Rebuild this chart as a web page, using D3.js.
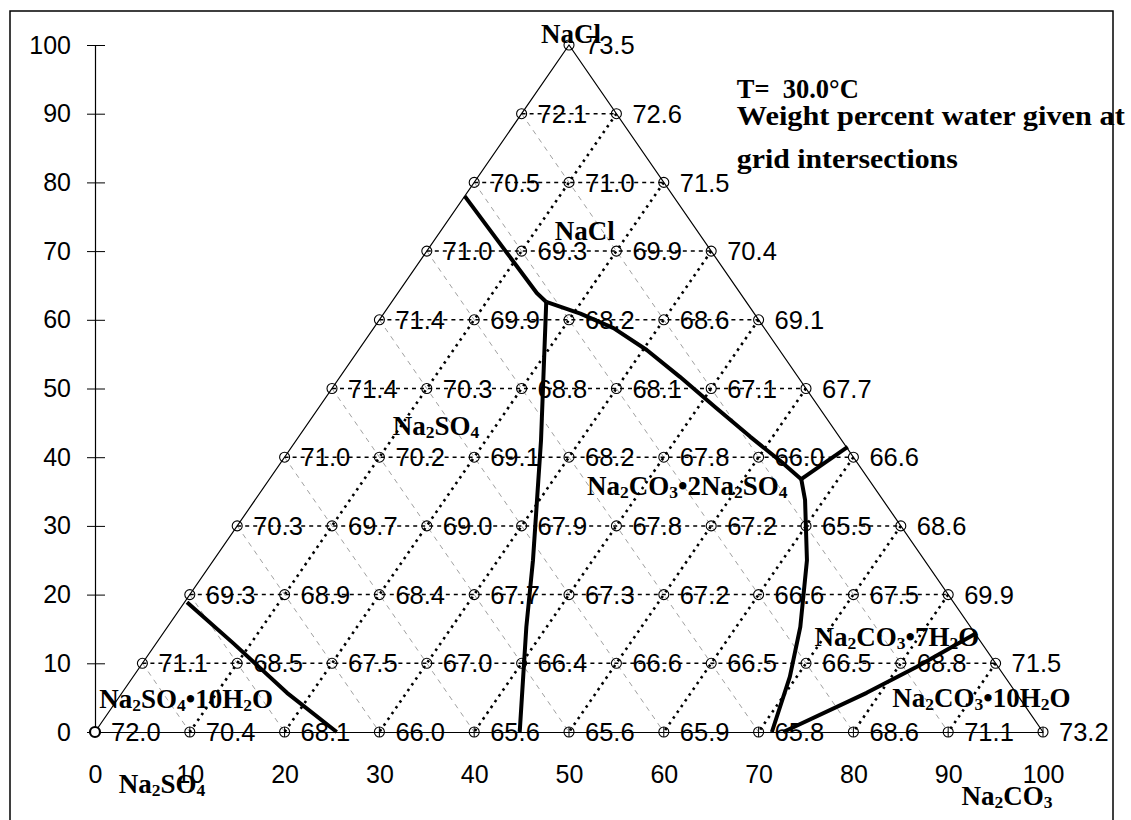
<!DOCTYPE html>
<html>
<head>
<meta charset="utf-8">
<script src="https://cdn.jsdelivr.net/npm/d3@7"></script>
<style>
  body { margin: 0; background: white; }
</style>
</head>
<body>
<div id="chart"></div>
<script>

const width = 1131
const height = 820

// grid levels of the ternary plot (y value of each row)
const levels = [0, 10, 20, 30, 40, 50, 60, 70, 80, 90, 100];
const xTicks = [0, 10, 20, 30, 40, 50, 60, 70, 80, 90, 100];
const yTicks = [0, 10, 20, 30, 40, 50, 60, 70, 80, 90, 100];

// weight percent water at each grid intersection, row by row, left to right
const water0 = [72.0, 70.4, 68.1, 66.0, 65.6, 65.6, 65.9, 65.8, 68.6, 71.1, 73.2];
const water10 = [71.1, 68.5, 67.5, 67.0, 66.4, 66.6, 66.5, 66.5, 68.8, 71.5];
const water20 = [69.3, 68.9, 68.4, 67.7, 67.3, 67.2, 66.6, 67.5, 69.9];
const water30 = [70.3, 69.7, 69.0, 67.9, 67.8, 67.2, 65.5, 68.6];
const water40 = [71.0, 70.2, 69.1, 68.2, 67.8, 66.0, 66.6];
const water50 = [71.4, 70.3, 68.8, 68.1, 67.1, 67.7];
const water60 = [71.4, 69.9, 68.2, 68.6, 69.1];
const water70 = [71.0, 69.3, 69.9, 70.4];
const water80 = [70.5, 71.0, 71.5];
const water90 = [72.1, 72.6];
const water100 = [73.5];

// phase boundaries
const bNaClNa2SO4 = [[39.0, 78.0], [46.6, 63.9], [47.6, 62.6]];
const bNa2SO4Double = [[47.6, 62.6], [47.05, 42.5], [46.2, 25.0], [45.5, 15.3], [44.8, 0]];
const bNaClDouble = [[47.6, 62.6], [51.2, 60.9], [54.7, 58.8], [58.2, 55.6], [61.7, 51.7], [65.5, 47.2], [69.1, 43.0], [72.6, 39.1], [74.5, 36.8]];
const bNaClCarb = [[74.5, 36.8], [79.4, 41.5]];
const bDoubleCarb = [[74.5, 36.8], [74.9, 33.8], [75.1, 25.0], [74.4, 15.3], [73.3, 8.05], [71.4, 0]];
const b7H2O10H2O = [[72.6, 0], [81.4, 5.7], [86.7, 9.5], [93.0, 14.4]];
const bNa2SO410H2O = [[9.7, 18.9], [14.6, 12.9], [20.25, 5.7], [25.5, 0]];

const boundaries = [bNaClNa2SO4, bNa2SO4Double, bNaClDouble, bNaClCarb, bDoubleCarb, b7H2O10H2O, bNa2SO410H2O];

// text labels: [text, x, y] in chart units (start of text, baseline)
const phaseLabels = [
  ["NaCl", 47.05, 100.3],
  ["NaCl", 48.5, 71.6],
  ["Na2SO4", 31.4, 43.2],
  ["Na2CO3•2Na2SO4", 51.9, 34.5],
  ["Na2CO3•7H2O", 75.9, 12.5],
  ["Na2CO3•10H2O", 84.1, 3.7],
  ["Na2SO4•10H2O", 0.45, 3.5],
  ["Na2SO4", 2.5, -8.9],
  ["Na2CO3", 91.4, -10.6]
];
const infoLabels = [
  ["T=  30.0°C", 67.7, 92.3, 122],
  ["Weight percent water given at", 67.7, 88.35, 388],
  ["grid intersections", 67.7, 82.05, 221]
];

const waterRows = [water0, water10, water20, water30, water40, water50, water60, water70, water80, water90, water100];
const gridPoints = [];
levels.forEach((lv, r) => {
  waterRows[r].forEach((w, i) => {
    gridPoints.push({ x: lv / 2 + 10 * i, y: lv, w: w, row: r, i: i });
  });
});

const sans = "'Liberation Sans', Arial, sans-serif";
const serif = "'Liberation Serif', 'Times New Roman', serif";

const svg = d3.select("#chart")
  .append("svg")
  .attr("width", width)
  .attr("height", height)

const x = d3.scaleLinear().domain([0, 100]).range([95, 1043]);
const y = d3.scaleLinear().domain([0, 100]).range([732, 45]);

svg.append("rect")
  .attr("x", 10)
  .attr("y", 11)
  .attr("width", 1103)
  .attr("height", 830)
  .attr("fill", "white")
  .attr("stroke", "black")
  .attr("stroke-width", 1.5);

const grid = svg.append("g").attr("class", "grid");
const steps = d3.range(1, 10);

// thin dashed lines parallel to the right side
grid.selectAll("line.thin")
  .data(steps)
  .join("line")
  .attr("class", "thin")
  .attr("x1", k => x(5 * k))
  .attr("y1", k => y(10 * k))
  .attr("x2", k => x(10 * k))
  .attr("y2", y(0))
  .attr("stroke", "#777")
  .attr("stroke-width", 0.7)
  .attr("stroke-dasharray", "5,5");

// dotted lines parallel to the left side
grid.selectAll("line.dot")
  .data(steps)
  .join("line")
  .attr("class", "dot")
  .attr("x1", k => x(100 - 5 * k))
  .attr("y1", k => y(10 * k))
  .attr("x2", k => x(100 - 10 * k))
  .attr("y2", y(0))
  .attr("stroke", "black")
  .attr("stroke-width", 2.6)
  .attr("stroke-dasharray", "2.5,4.5");

// dashed horizontal rows
grid.selectAll("line.row")
  .data(steps)
  .join("line")
  .attr("class", "row")
  .attr("x1", k => x(5 * k))
  .attr("y1", k => y(10 * k))
  .attr("x2", k => x(100 - 5 * k))
  .attr("y2", k => y(10 * k))
  .attr("stroke", "black")
  .attr("stroke-width", 1.5)
  .attr("stroke-dasharray", "4,4");

// triangle sides
svg.append("path")
  .attr("d", d3.line()([[x(0), y(0)], [x(50), y(100)], [x(100), y(0)]]))
  .attr("fill", "none")
  .attr("stroke", "black")
  .attr("stroke-width", 1.2);

// axes
const yAxis = svg.append("g")
  .attr("transform", `translate(${x(0)},0)`)
  .call(d3.axisLeft(y).tickValues(yTicks).tickSize(8).tickSizeOuter(0).tickPadding(16));
yAxis.selectAll(".tick").append("line")
  .attr("x2", 10)
  .attr("stroke", "black");

const xAxis = svg.append("g")
  .attr("transform", `translate(0,${y(0)})`)
  .call(d3.axisBottom(x).tickValues(xTicks).tickSize(0).tickSizeOuter(0).tickPadding(33));

[yAxis, xAxis].forEach(a => {
  a.select(".domain").attr("stroke", "black").attr("stroke-width", 1.2);
  a.selectAll("text")
    .attr("font-family", sans)
    .attr("font-size", 25)
    .attr("fill", "black");
});

// grid markers
svg.selectAll("circle.pt")
  .data(gridPoints)
  .join("circle")
  .attr("class", "pt")
  .attr("cx", d => x(d.x))
  .attr("cy", d => y(d.y))
  .attr("r", 5)
  .attr("fill", d => d.row === 0 && d.i === 0 ? "white" : "none")
  .attr("stroke", "black")
  .attr("stroke-width", d => d.row === 0 && d.i === 0 ? 2.2 : 1.1);

svg.selectAll("line.ptmark")
  .data(gridPoints.filter(d => d.row === 0 && d.i > 0))
  .join("line")
  .attr("class", "ptmark")
  .attr("x1", d => x(d.x))
  .attr("x2", d => x(d.x))
  .attr("y1", d => y(d.y) - 5)
  .attr("y2", d => y(d.y) + 5)
  .attr("stroke", "black")
  .attr("stroke-width", 1);

// water values
svg.selectAll("text.val")
  .data(gridPoints)
  .join("text")
  .attr("class", "val")
  .attr("x", d => x(d.x) + 16)
  .attr("y", d => y(d.y))
  .attr("dy", "0.36em")
  .attr("font-family", sans)
  .attr("font-size", 25.5)
  .attr("fill", "black")
  .text(d => d3.format(".1f")(d.w));

// phase boundaries
const lineGen = d3.line().x(d => x(d[0])).y(d => y(d[1]));
svg.selectAll("path.boundary")
  .data(boundaries)
  .join("path")
  .attr("class", "boundary")
  .attr("d", lineGen)
  .attr("fill", "none")
  .attr("stroke", "black")
  .attr("stroke-width", 4)
  .attr("stroke-linejoin", "round");

// chemical formula with subscripts
function addFormula(sel, str) {
  let sub = false;
  let prev = "";
  for (const ch of str) {
    const isDigit = /[0-9]/.test(ch);
    let nowSub = false;
    if (isDigit) {
      nowSub = /[A-Za-z]/.test(prev) || (/[0-9]/.test(prev) && sub);
    }
    const t = sel.append("tspan").text(ch);
    if (nowSub && !sub) t.attr("dy", 3).attr("font-size", "0.65em");
    else if (nowSub) t.attr("font-size", "0.65em");
    else if (!nowSub && sub) t.attr("dy", -3);
    sub = nowSub;
    prev = ch;
  }
}

svg.selectAll("text.phase")
  .data(phaseLabels)
  .join("text")
  .attr("class", "phase")
  .attr("x", d => x(d[1]))
  .attr("y", d => y(d[2]))
  .attr("font-family", serif)
  .attr("font-weight", "bold")
  .attr("font-size", 27)
  .attr("fill", "black")
  .each(function (d) { addFormula(d3.select(this), d[0]); });

svg.selectAll("text.info")
  .data(infoLabels)
  .join("text")
  .attr("class", "info")
  .attr("x", d => x(d[1]))
  .attr("y", d => y(d[2]))
  .attr("font-family", serif)
  .attr("font-weight", "bold")
  .attr("font-size", 28)
  .attr("fill", "black")
  .attr("textLength", d => d[3])
  .attr("lengthAdjust", "spacingAndGlyphs")
  .style("white-space", "pre")
  .text(d => d[0]);

</script>
</body>
</html>
